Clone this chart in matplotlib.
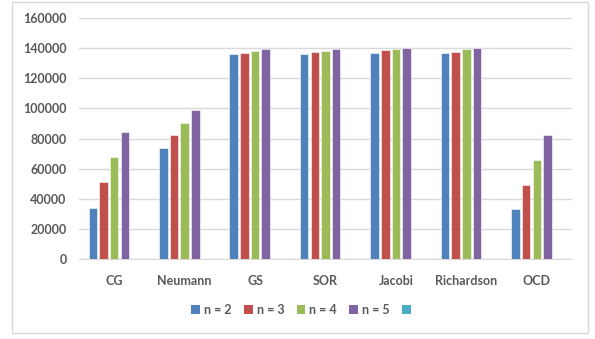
import matplotlib.pyplot as plt
from matplotlib.patches import Rectangle, Patch

plt.rcParams['font.family'] = ['Lato', 'DejaVu Sans']

methods = ['CG', 'Neumann', 'GS', 'SOR', 'Jacobi', 'Richardson', 'OCD']
n2 = [34000, 74000, 136200, 136200, 136800, 136800, 33300]
n3 = [51000, 82400, 136800, 137700, 138600, 137700, 49300]
n4 = [67700, 90200, 138300, 138300, 139300, 139300, 66000]
n5 = [84700, 99100, 139300, 139300, 140100, 140100, 82200]
labels = ['n = 2', 'n = 3', 'n = 4', 'n = 5', '']
colors = ['#4F81BD', '#C0504D', '#9BBB59', '#8064A2', '#4BACC6']
# last series is in the legend but has no values
series = [n2, n3, n4, n5, None]

fig = plt.figure(figsize=(5.95, 3.39), dpi=100)
fig.patches.append(Rectangle((12/595, 1-333/339), 576/595, 331/339,
                             transform=fig.transFigure, fill=False,
                             edgecolor='#d9d9d9', lw=1))
ax = fig.add_axes([79/595, 1-259.3/339, 493/595, (259.3-18)/339])

step = 0.152
x = range(len(methods))
handles = []
for i, (vals, c) in enumerate(zip(series, colors)):
    off = (i - 2) * step
    if vals is not None:
        ax.bar([k + off for k in x], vals, width=step*0.8, color=c,
               edgecolor='white', linewidth=0.4, zorder=3)
    handles.append(Patch(facecolor=c))

ax.set_xlim(-0.5, len(methods) - 0.5)
ax.set_ylim(0, 160000)
ax.set_yticks(range(0, 160001, 20000))
ax.set_xticks(list(x))
ax.set_xticklabels(methods)
ax.grid(axis='y', color='#d9d9d9', lw=1, zorder=0)
for s in ['top', 'right', 'left']:
    ax.spines[s].set_visible(False)
ax.spines['bottom'].set_color('#d9d9d9')
ax.tick_params(length=0, labelsize=9, colors='#595959')
ax.tick_params(axis='x', pad=11)
ax.tick_params(axis='y', pad=9)
for t in ax.get_xticklabels() + ax.get_yticklabels():
    t.set_fontweight('bold')

leg = fig.legend(handles, labels, loc='center', bbox_to_anchor=(303/595, 1-310/339),
                 ncol=5, frameon=False, handlelength=0.7, handleheight=0.7,
                 handletextpad=0.3, columnspacing=1.0, fontsize=9)
for t in leg.get_texts():
    t.set_color('#595959')
    t.set_fontweight('bold')

fig.savefig('out.png', dpi=100)
